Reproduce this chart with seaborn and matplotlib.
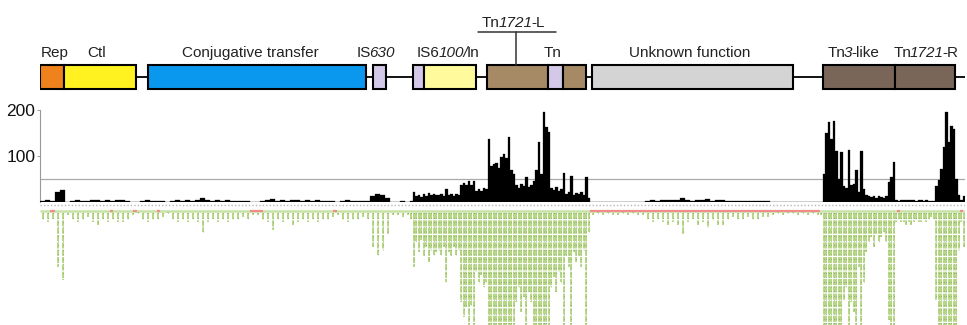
import numpy as np
import pandas as pd
import matplotlib
matplotlib.use("Agg")
import matplotlib.pyplot as plt
import seaborn as sns

# ---------------- data ----------------
# gene map (kb)
gene_names = ["Rep", "Ctl", "Conjugative transfer", "IS630", "IS6100", "In",
              "Tn-a", "Tn-b", "Tn-c", "Unknown function", "Tn3-like", "Tn1721-R"]
gene_start = [0.0, 2.4, 10.8, 33.3, 37.3, 38.4, 44.7, 50.8, 52.3, 55.2, 78.3, 85.5]
gene_end = [2.4, 9.6, 32.6, 34.6, 38.4, 43.6, 50.8, 52.3, 54.6, 75.3, 85.5, 91.5]
gene_color = ["#F0821E", "#FFF220", "#0A98EE", "#D4C8E8", "#D4C8E8", "#FFFA9C",
              "#A68A65", "#D4C8E8", "#A68A65", "#D4D4D4", "#7A6659", "#7A6659"]
backbone = [9.6, 92.5]

# labels as (text, italic) pieces
label_parts = [[("Rep", False)],
               [("Ctl", False)],
               [("Conjugative transfer", False)],
               [("IS", False), ("630", True)],
               [("IS6", False), ("100/", True), ("In", False)],
               [("Tn", False)],
               [("Unknown function", False)],
               [("Tn", False), ("3", True), ("-like", False)],
               [("Tn", False), ("1721", True), ("-R", False)]]
label_pos = [1.5, 5.7, 21.0, 33.5, 40.8, 51.3, 65.0, 81.3, 88.6]

tn_l_parts = [("Tn", False), ("1721", True), ("-L", False)]
tn_l_pos = 47.3
tn_l_bracket = [43.8, 51.6]
tn_l_stem = 47.6

# sequencing depth, four regions with their own bin widths (kb)
left_start, left_step = 0.0, 0.5
depth_left = [3, 4, 3, 22, 27, 1, 3, 4, 3, 2,
              4, 5, 3, 4, 3, 4, 4, 3, 1, 0,
              3, 4, 3, 3, 2, 0, 3, 4, 3, 4,
              3, 4, 8, 4, 3, 4, 3, 4, 3, 3,
              2, 3, 1, 1, 3, 4, 7, 3, 4, 3,
              5, 4, 3, 4, 3, 4, 3, 3, 2, 1,
              3, 4, 3, 3, 2, 3, 14, 17, 15, 9,
              1, 1, 2, 1]
mid_start, mid_step = 37.0, 0.25
depth_mid = [3, 22, 12, 16, 11, 18, 14, 20, 15, 17,
             16, 15, 17, 14, 28, 16, 18, 14, 17, 15,
             36, 42, 38, 45, 37, 46, 24, 28, 25, 30,
             28, 138, 78, 82, 84, 74, 98, 104, 96, 141,
             69, 60, 36, 30, 40, 34, 54, 32, 36, 46,
             70, 130, 60, 196, 162, 152, 30, 26, 32, 24,
             28, 62, 18, 22, 56, 16, 20, 18, 22, 15,
             54, 8]
unk_start, unk_step = 55.0, 0.5
depth_unknown = [1, 0, 1, 0, 1, 1, 0, 1, 0, 1,
                 1, 3, 4, 3, 4, 5, 4, 5, 9, 4,
                 3, 5, 4, 6, 3, 5, 5, 3, 2, 3,
                 3, 2, 3, 3, 2, 2, 1, 0, 1, 0,
                 0, 1, 0, 1, 0, 1]
right_start, right_step = 78.0, 0.25
depth_right = [1, 60, 150, 174, 138, 176, 110, 50, 109, 35,
               30, 112, 36, 40, 69, 22, 110, 28, 16, 12,
               10, 14, 9, 12, 10, 8, 12, 43, 55, 87,
               4, 3, 4, 4, 5, 4, 5, 4, 3, 4,
               4, 3, 4, 3, 2, 3, 35, 48, 72, 120,
               196, 130, 165, 158, 50, 15, 4, 14]

# low-coverage flags on the reference track (kb)
flag_start = [1.0, 7.0, 9.3, 11.7, 21.0, 29.3, 55.0, 85.7, 92.0]
flag_end = [1.5, 7.3, 9.7, 12.0, 22.3, 29.7, 78.0, 86.0, 92.3]

y_ticks = [100, 200]
threshold = 50

# ---------------- build table ----------------
def region(start, step, vals):
    vals = np.asarray(vals, float)
    edges = start + step * np.arange(len(vals) + 1)
    return edges, vals

parts = [region(left_start, left_step, depth_left),
         region(mid_start, mid_step, depth_mid),
         region(unk_start, unk_step, depth_unknown),
         region(right_start, right_step, depth_right)]
edges = np.unique(np.round(np.concatenate([p[0] for p in parts]), 6))
pos = np.concatenate([(p[0][:-1] + p[0][1:]) / 2 for p in parts])
dep = np.concatenate([p[1] for p in parts])
df = pd.DataFrame({"pos": pos, "depth": dep})

# ---------------- figure ----------------
sns.set_theme(style="white")
plt.rcParams["font.family"] = ["Liberation Sans", "DejaVu Sans"]

W, H = 967, 325
fig = plt.figure(figsize=(W / 100, H / 100), dpi=100)
renderer = fig.canvas.get_renderer()
x0, x1 = 40, 965
XMAX = 92.5

def axes_px(top, bottom):
    return fig.add_axes([x0 / W, (H - bottom) / H, (x1 - x0) / W, (bottom - top) / H])

def mixed_label(ax, x, y, pieces, size=11, color="#222222"):
    widths = []
    for s, it in pieces:
        t = ax.text(0, 0, s, fontsize=size, fontstyle="italic" if it else "normal")
        w = t.get_window_extent(renderer).width
        widths.append(w - 2.5 if it else w)
        t.remove()
    total = sum(widths)
    off = -total / 2
    for (s, it), w in zip(pieces, widths):
        ax.annotate(s, xy=(x, y), xycoords="data",
                    xytext=((off - (1.2 if it else 0)) * 72 / 100, 0),
                    textcoords="offset points",
                    ha="left", va="baseline", fontsize=size, color=color,
                    fontstyle="italic" if it else "normal")
        off += w

# gene map axis, y in pixels
ax_map = axes_px(0, 100)
ax_map.set_xlim(0, XMAX)
ax_map.set_ylim(100, 0)
ax_map.axis("off")
ax_map.plot(backbone, [77, 77], color="black", lw=1.3, zorder=1, solid_capstyle="butt")
ax_map.barh([77] * len(gene_start), np.array(gene_end) - np.array(gene_start),
            left=gene_start, height=24, color=gene_color, edgecolor="black",
            linewidth=1.5, zorder=2)
for pcs, p in zip(label_parts, label_pos):
    mixed_label(ax_map, p, 57, pcs)
mixed_label(ax_map, tn_l_pos, 27, tn_l_parts)
ax_map.plot(tn_l_bracket, [32, 32], color="#333333", lw=1.1)
ax_map.plot([tn_l_stem, tn_l_stem], [32, 65], color="#333333", lw=1.1)

# coverage axis
cov_top_val = 210
px_per_unit = 0.46
ax_cov = axes_px(202 - cov_top_val * px_per_unit, 202)
sns.histplot(data=df, x="pos", weights="depth", bins=list(edges), color="black",
             alpha=1, edgecolor="black", linewidth=0.2, ax=ax_cov, zorder=3)
ax_cov.set_xlim(0, XMAX)
ax_cov.set_ylim(0, cov_top_val)
ax_cov.axhline(threshold, color="#AAAAAA", lw=0.9, zorder=1)
ax_cov.axhline(0.5, color="#BBBBBB", lw=1.0, zorder=1)
for s in ["top", "right", "bottom"]:
    ax_cov.spines[s].set_visible(False)
ax_cov.spines["left"].set_color("#999999")
ax_cov.spines["left"].set_linewidth(0.8)
ax_cov.spines["left"].set_bounds(0, 200)
ax_cov.set_yticks(y_ticks)
ax_cov.set_yticklabels([str(v) for v in y_ticks], fontsize=12.5, color="#111111")
ax_cov.tick_params(axis="y", length=2.5, width=0.7, color="#999999", pad=1, left=True)
ax_cov.set_xticks([])
ax_cov.set_xlabel("")
ax_cov.set_ylabel("")
ax_cov.patch.set_alpha(0)

# read pileup axis (rows of 2.5 px)
row_px = 2.5
ax_rd = axes_px(203, 325)
ax_rd.set_xlim(0, XMAX)
ax_rd.set_ylim((325 - 212) / row_px, (203 - 212) / row_px)
ax_rd.axis("off")
ax_rd.hlines(-2.7, 0, XMAX, color="#B8B8B8", lw=1.0, linestyles=[(0, (1, 1.5))])
ax_rd.hlines(-0.5, 0, XMAX, color="#C6E2A4", lw=1.8)
ax_rd.hlines([-0.5] * len(flag_start), flag_start, flag_end, color="#F08C8C", lw=1.6)
ax_rd.vlines(df["pos"], 0.2, df["depth"], color="#A0CC62", lw=1.1,
             linestyles=[(0, (4, 0.8))])
ax_rd.vlines(df["pos"], 0.2, df["depth"], color="#5A5A5A", lw=0.5,
             linestyles=[(0, (0.6, 6))])

fig.savefig("out.png", dpi=100)
